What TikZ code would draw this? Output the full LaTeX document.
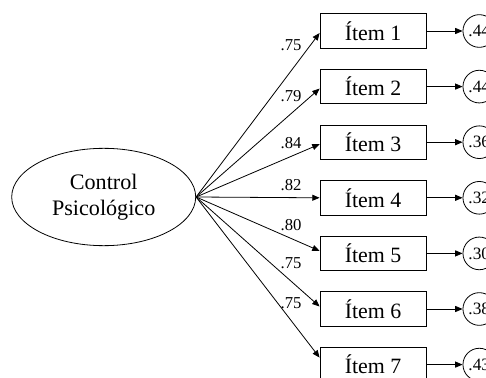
\documentclass[tikz,border=0pt]{standalone}
\usepackage{fontspec}
\setmainfont{Liberation Serif}
\usetikzlibrary{arrows.meta,shapes.geometric,calc}
\begin{document}
\begin{tikzpicture}[x=0.75pt,y=-0.75pt,
  line width=0.6pt,
  itembox/.style={draw,rectangle,minimum width=79.5pt,minimum height=25.9pt,inner sep=0pt,font=\fontsize{16.4}{19}\selectfont},
  errc/.style={draw,circle,minimum size=24.5pt,inner sep=0pt,font=\fontsize{13}{15}\selectfont},
  latent/.style={draw,ellipse,minimum width=138pt,minimum height=73pt,inner sep=0pt,align=center,font=\fontsize{16.6}{19.3}\selectfont},
  loadlbl/.style={font=\fontsize{12.5}{14}\selectfont,inner sep=0pt},
  arr/.style={-{Triangle[length=5.5pt,width=4.5pt]}}]
\useasboundingbox (0,0) rectangle (486,378);
\clip (0,0) rectangle (486,378);
\node[latent] (cp) at (103.7,197) {Control\\Psicológico};
\foreach \k/\y/\e/\l/\ly/\dy in {1/31/.44/.75/45/-2,2/86.6/.44/.79/96/-2,3/142.2/.36/.84/142.7/-2,4/197.8/.32/.82/185/0,5/253.4/.30/.80/225/2.5,6/309/.38/.75/263.3/2.5,7/364.6/.43/.75/302.7/7}{
  \node[itembox] (i\k) at (373,\y) {Ítem \k};
  \node[errc] (e\k) at (479.3,\y) {\e};
  \coordinate (t\k) at ($(i\k.west)+(0,-\dy)$);
  \draw[arr] (cp.east) -- (t\k);
  \draw[arr] (i\k.east) -- (e\k.west);
  \node[loadlbl] (l\k) at (291,\ly) {\l};
}
\end{tikzpicture}
\end{document}
